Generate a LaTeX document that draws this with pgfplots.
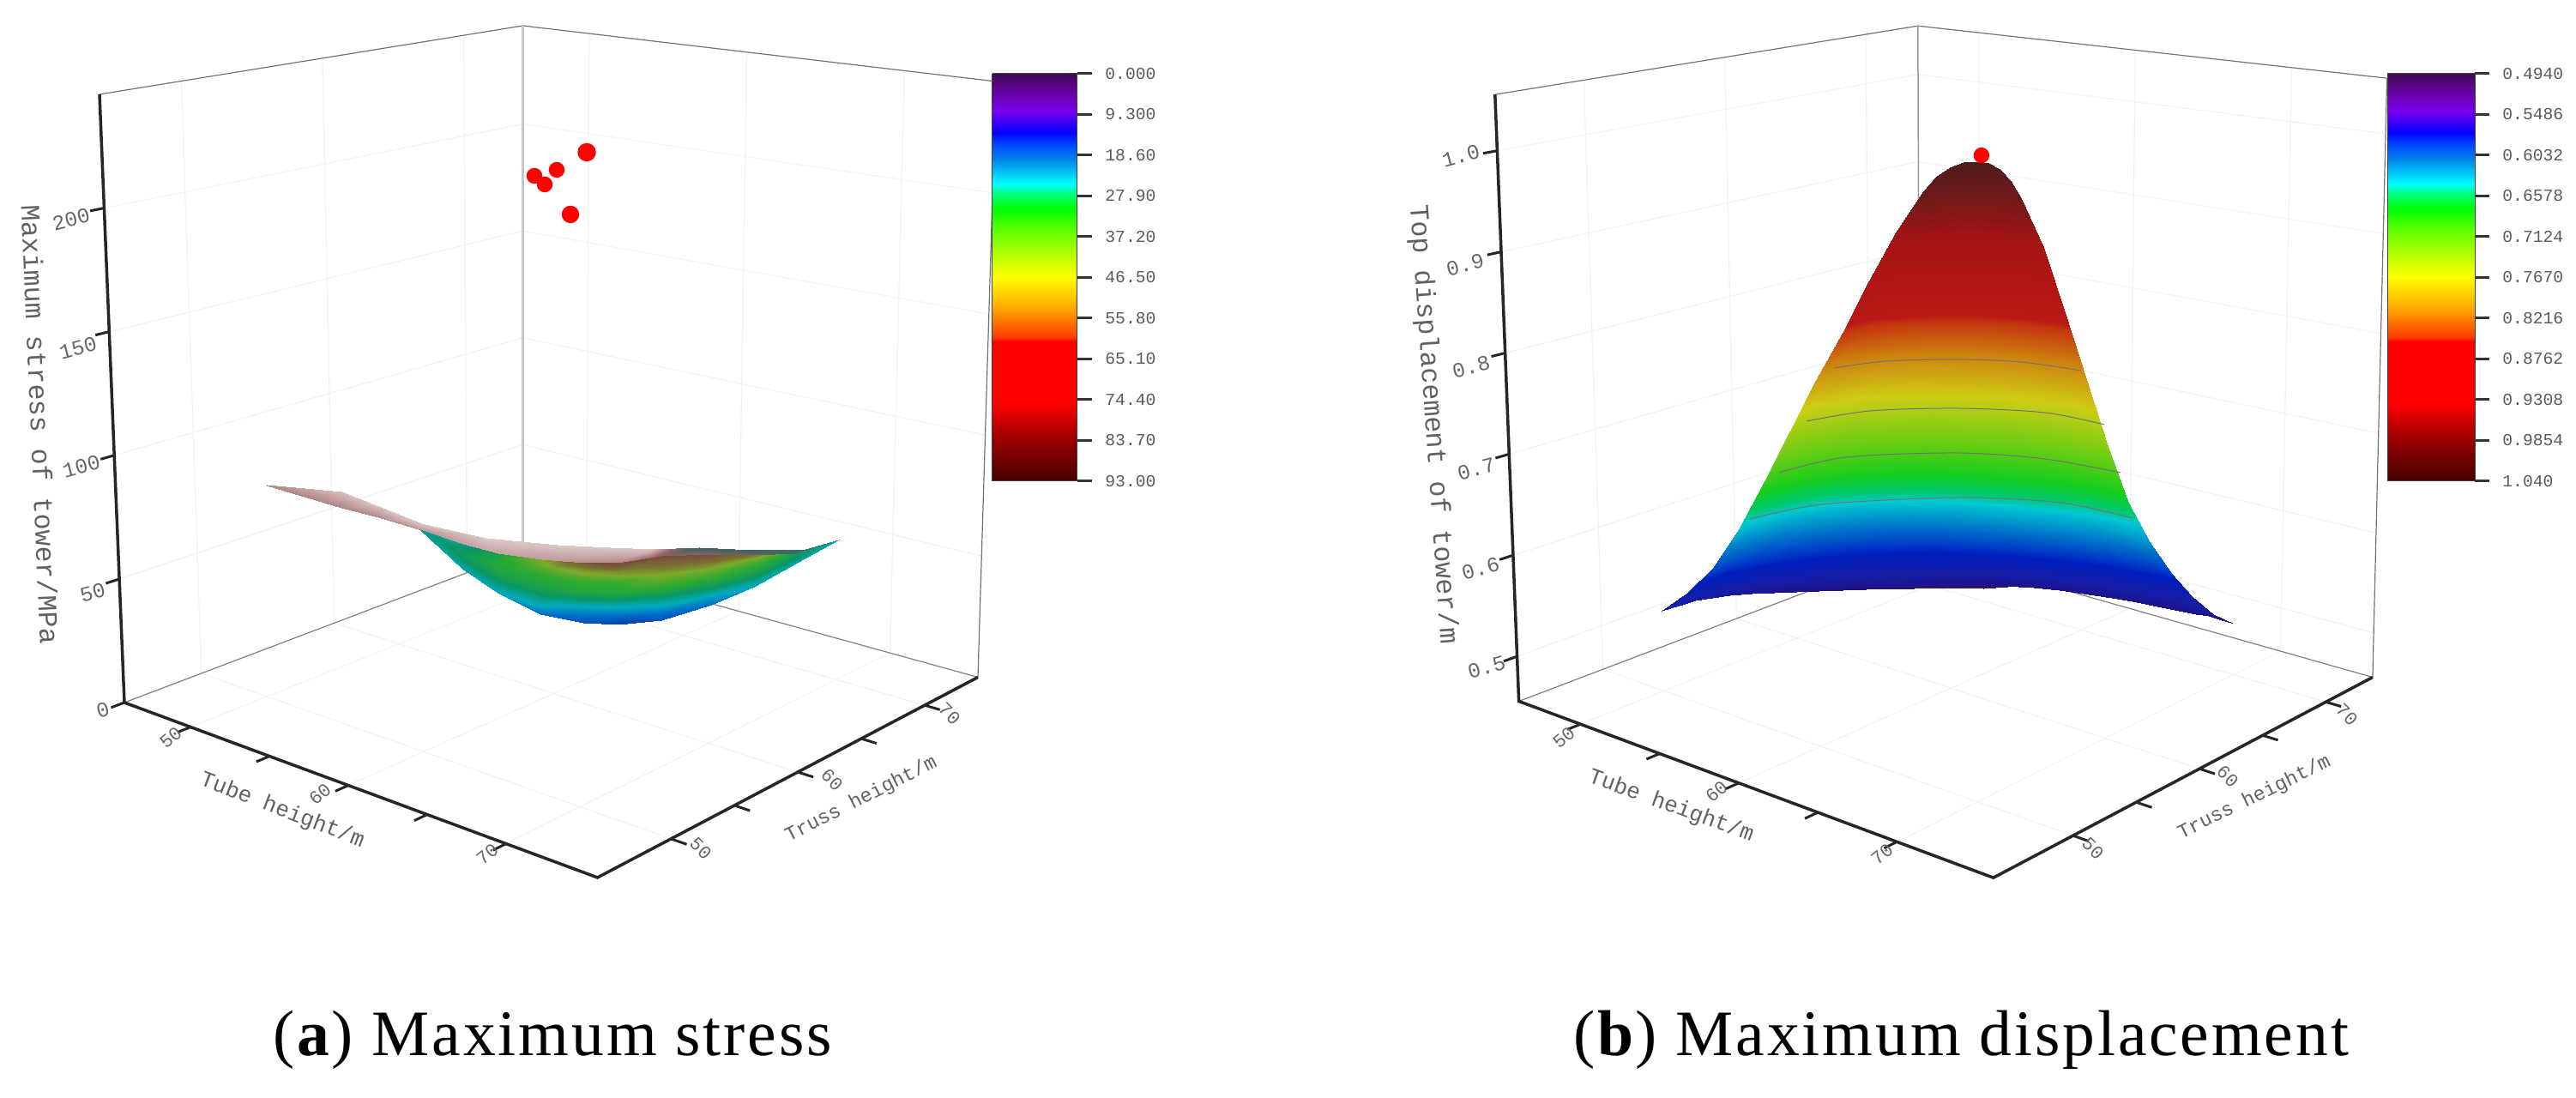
\documentclass[border=0pt]{standalone}
\usepackage{fontspec}
\setmainfont{Liberation Serif}
\newfontfamily\monof{Liberation Mono}
\newfontfamily\capf[LetterSpace=3.8]{Liberation Serif}
\usepackage{pgfplots}
\usepackage{pgfplotstable}
\pgfplotsset{compat=1.18}

% colour bar scale, top to bottom of the bar
\pgfplotsset{
  colormap={barmap}{
    rgb255(0pt)=(58,10,74) rgb255(30pt)=(90,5,130) rgb255(94pt)=(122,0,240)
    rgb255(147pt)=(0,0,255) rgb255(170pt)=(0,60,255) rgb255(210pt)=(0,130,235)
    rgb255(274pt)=(0,255,255) rgb255(297pt)=(0,255,128) rgb255(335pt)=(0,255,0)
    rgb255(395pt)=(110,255,0) rgb255(500pt)=(255,255,0) rgb255(583pt)=(255,160,0)
    rgb255(650pt)=(255,60,0) rgb255(660pt)=(255,0,0) rgb255(810pt)=(255,0,0)
    rgb255(883pt)=(170,0,0) rgb255(1000pt)=(70,0,0)},
  colormap={dimmap}{
    rgb255(0pt)=(50,15,90) rgb255(30pt)=(30,20,140) rgb255(94pt)=(20,30,170)
    rgb255(147pt)=(0,30,190) rgb255(170pt)=(0,60,200) rgb255(210pt)=(0,110,200)
    rgb255(274pt)=(0,200,210) rgb255(297pt)=(0,200,110) rgb255(335pt)=(20,205,30)
    rgb255(395pt)=(95,205,20) rgb255(500pt)=(205,205,20) rgb255(583pt)=(205,130,15)
    rgb255(650pt)=(195,50,15) rgb255(660pt)=(185,25,20) rgb255(810pt)=(165,20,20)
    rgb255(883pt)=(115,25,25) rgb255(1000pt)=(55,30,30)},
  colormap={undermap}{
    rgb255(0pt)=(0,30,150) rgb255(15pt)=(10,60,170) rgb255(22pt)=(0,110,200)
    rgb255(27pt)=(0,170,190) rgb255(33pt)=(10,150,100) rgb255(40pt)=(40,170,50)
    rgb255(50pt)=(125,170,40) rgb255(60pt)=(120,115,50) rgb255(72pt)=(120,75,60)
    rgb255(93pt)=(170,120,120)},
  colormap={topmap}{
    rgb255(0pt)=(45,125,115) rgb255(30pt)=(70,100,95) rgb255(60pt)=(150,100,100)
    rgb255(80pt)=(200,165,165) rgb255(93pt)=(225,210,210)},
  panel/.style={scale only axis, height=128mm, hide axis, y dir=reverse,
    ymin=0, ymax=1280, clip=false, no markers, colormap name=barmap},
  barstyle/.style={anchor=north west, width=9.9mm, height=47.5mm, y dir=reverse, samples=240,
    ytick pos=right, yticklabel pos=right, tick align=outside, major tick length=1.7mm,
    xtick=\empty, ytick style={black!80, line width=.3mm},
    axis line style={black!75, line width=.1mm},
    yticklabel style={font=\monof\fontsize{5.6}{6}\selectfont, text=black!65, xshift=.3mm}},
  table/proj/.style={row sep=\\,
    x expr={sx(\thisrow{t},\thisrow{s},\thisrow{z})},
    y expr={sy(\thisrow{t},\thisrow{s},\thisrow{z})}},
  gridl/.style={black!5, line width=.12mm},
  tickl/.style={black!85, line width=.3mm},
}
\newcommand\seg[3]{\addplot[#1] table[proj]{t s z\\ #2\\ #3\\};}
\tikzset{
  ztxt/.style={font=\monof\fontsize{7}{8}\selectfont, text=black!60},
  ticktxt/.style={font=\monof\fontsize{6.2}{7}\selectfont, text=black!60},
  labtxt/.style={font=\monof\fontsize{#1}{10}\selectfont, text=black!62},
  captxt/.style={font=\capf\fontsize{21.5}{26}\selectfont},
}

% top displacement of tower/m over tube height/m and truss height/m
\pgfplotstableread[row sep=\\]{tube truss z\\
50 70 0.460\\ 50 68.33 0.468\\ 50 66.67 0.475\\ 50 65 0.482\\ 50 63.33 0.489\\ 50 61.67 0.496\\ 50 60 0.504\\ 50 58.33 0.512\\ 50 56.67 0.519\\ 50 55 0.526\\ 50 53.33 0.531\\ 50 52.5 0.533\\ 50 51.67 0.534\\ 50 50.83 0.535\\ 50 50 0.535\\
51.67 70 0.463\\ 51.67 68.33 0.472\\ 51.67 66.67 0.481\\ 51.67 65 0.489\\ 51.67 63.33 0.497\\ 51.67 61.67 0.506\\ 51.67 60 0.516\\ 51.67 58.33 0.528\\ 51.67 56.67 0.538\\ 51.67 55 0.548\\ 51.67 53.33 0.555\\ 51.67 52.5 0.558\\ 51.67 51.67 0.560\\ 51.67 50.83 0.561\\ 51.67 50 0.561\\
53.33 70 0.471\\ 53.33 68.33 0.480\\ 53.33 66.67 0.488\\ 53.33 65 0.497\\ 53.33 63.33 0.507\\ 53.33 61.67 0.520\\ 53.33 60 0.533\\ 53.33 58.33 0.547\\ 53.33 56.67 0.561\\ 53.33 55 0.575\\ 53.33 53.33 0.585\\ 53.33 52.5 0.589\\ 53.33 51.67 0.591\\ 53.33 50.83 0.593\\ 53.33 50 0.593\\
55 70 0.478\\ 55 68.33 0.486\\ 55 66.67 0.496\\ 55 65 0.508\\ 55 63.33 0.520\\ 55 61.67 0.535\\ 55 60 0.553\\ 55 58.33 0.573\\ 55 56.67 0.593\\ 55 55 0.612\\ 55 53.33 0.626\\ 55 52.5 0.631\\ 55 51.67 0.635\\ 55 50.83 0.637\\ 55 50 0.638\\
56.67 70 0.488\\ 56.67 68.33 0.496\\ 56.67 66.67 0.507\\ 56.67 65 0.520\\ 56.67 63.33 0.536\\ 56.67 61.67 0.554\\ 56.67 60 0.578\\ 56.67 58.33 0.604\\ 56.67 56.67 0.631\\ 56.67 55 0.656\\ 56.67 53.33 0.675\\ 56.67 52.5 0.682\\ 56.67 51.67 0.687\\ 56.67 50.83 0.690\\ 56.67 50 0.691\\
58.33 70 0.493\\ 58.33 68.33 0.502\\ 58.33 66.67 0.516\\ 58.33 65 0.531\\ 58.33 63.33 0.550\\ 58.33 61.67 0.573\\ 58.33 60 0.603\\ 58.33 58.33 0.636\\ 58.33 56.67 0.669\\ 58.33 55 0.701\\ 58.33 53.33 0.725\\ 58.33 52.5 0.733\\ 58.33 51.67 0.740\\ 58.33 50.83 0.743\\ 58.33 50 0.745\\
60 70 0.496\\ 60 68.33 0.507\\ 60 66.67 0.523\\ 60 65 0.542\\ 60 63.33 0.564\\ 60 61.67 0.591\\ 60 60 0.627\\ 60 58.33 0.668\\ 60 56.67 0.707\\ 60 55 0.746\\ 60 53.33 0.774\\ 60 52.5 0.784\\ 60 51.67 0.792\\ 60 50.83 0.797\\ 60 50 0.798\\
61.67 70 0.498\\ 61.67 68.33 0.511\\ 61.67 66.67 0.530\\ 61.67 65 0.551\\ 61.67 63.33 0.577\\ 61.67 61.67 0.609\\ 61.67 60 0.650\\ 61.67 58.33 0.697\\ 61.67 56.67 0.743\\ 61.67 55 0.787\\ 61.67 53.33 0.820\\ 61.67 52.5 0.831\\ 61.67 51.67 0.841\\ 61.67 50.83 0.845\\ 61.67 50 0.847\\
63.33 70 0.501\\ 63.33 68.33 0.516\\ 63.33 66.67 0.536\\ 63.33 65 0.561\\ 63.33 63.33 0.591\\ 63.33 61.67 0.626\\ 63.33 60 0.674\\ 63.33 58.33 0.727\\ 63.33 56.67 0.779\\ 63.33 55 0.829\\ 63.33 53.33 0.867\\ 63.33 52.5 0.881\\ 63.33 51.67 0.891\\ 63.33 50.83 0.896\\ 63.33 50 0.899\\
65 70 0.503\\ 65 68.33 0.520\\ 65 66.67 0.543\\ 65 65 0.571\\ 65 63.33 0.604\\ 65 61.67 0.643\\ 65 60 0.696\\ 65 58.33 0.756\\ 65 56.67 0.814\\ 65 55 0.870\\ 65 53.33 0.912\\ 65 52.5 0.927\\ 65 51.67 0.939\\ 65 50.83 0.945\\ 65 50 0.947\\
66.67 70 0.505\\ 66.67 68.33 0.523\\ 66.67 66.67 0.549\\ 66.67 65 0.578\\ 66.67 63.33 0.615\\ 66.67 61.67 0.658\\ 66.67 60 0.715\\ 66.67 58.33 0.779\\ 66.67 56.67 0.843\\ 66.67 55 0.904\\ 66.67 53.33 0.950\\ 66.67 52.5 0.966\\ 66.67 51.67 0.978\\ 66.67 50.83 0.985\\ 66.67 50 0.988\\
67.5 70 0.506\\ 67.5 68.33 0.524\\ 67.5 66.67 0.550\\ 67.5 65 0.581\\ 67.5 63.33 0.618\\ 67.5 61.67 0.663\\ 67.5 60 0.722\\ 67.5 58.33 0.788\\ 67.5 56.67 0.853\\ 67.5 55 0.916\\ 67.5 53.33 0.962\\ 67.5 52.5 0.979\\ 67.5 51.67 0.992\\ 67.5 50.83 0.999\\ 67.5 50 1.002\\
68.33 70 0.507\\ 68.33 68.33 0.525\\ 68.33 66.67 0.552\\ 68.33 65 0.583\\ 68.33 63.33 0.621\\ 68.33 61.67 0.666\\ 68.33 60 0.726\\ 68.33 58.33 0.794\\ 68.33 56.67 0.860\\ 68.33 55 0.924\\ 68.33 53.33 0.972\\ 68.33 52.5 0.989\\ 68.33 51.67 1.002\\ 68.33 50.83 1.009\\ 68.33 50 1.012\\
69.17 70 0.507\\ 69.17 68.33 0.526\\ 69.17 66.67 0.553\\ 69.17 65 0.584\\ 69.17 63.33 0.623\\ 69.17 61.67 0.668\\ 69.17 60 0.729\\ 69.17 58.33 0.797\\ 69.17 56.67 0.865\\ 69.17 55 0.929\\ 69.17 53.33 0.977\\ 69.17 52.5 0.995\\ 69.17 51.67 1.008\\ 69.17 50.83 1.015\\ 69.17 50 1.018\\
70 70 0.507\\ 70 68.33 0.526\\ 70 66.67 0.553\\ 70 65 0.585\\ 70 63.33 0.623\\ 70 61.67 0.669\\ 70 60 0.730\\ 70 58.33 0.799\\ 70 56.67 0.866\\ 70 55 0.931\\ 70 53.33 0.980\\ 70 52.5 0.997\\ 70 51.67 1.010\\ 70 50.83 1.017\\ 70 50 1.020\\
}\surfb

% maximum stress surface (page x, page y, value)
\pgfplotstableread[row sep=\\]{px py v\\
311 565 75\\ 311 566 70\\ 398 573 88\\ 398 592 70\\ 441 590 88\\ 441 603 72\\ 491 610 90\\ 491 618 76\\
566 627 90\\ 566 645 78\\ 649 635 90\\ 649 655 75\\ 711 638 90\\ 711 658 70\\ 761 640 88\\ 761 650 60\\
815 638 25\\ 815 648 60\\ 877 641 20\\ 877 649 55\\ 939 640 5\\ 939 647 10\\ 978 629 0\\ 978 629 0\\
}\topa
\pgfplotstableread[row sep=\\]{px py v\\
489 617.5 30\\ 489 617.5 30\\ 489 617.5 30\\ 489 617.5 30\\ 489 617.5 30\\ 489 617.5 30\\ 489 617.5 30\\
539 634 30\\ 539 638 32\\ 539 643 34\\ 539 648.5 34\\ 539 654 32\\ 539 659 30\\ 539 663 28\\
580 645 36\\ 580 652 38\\ 580 659 39\\ 580 668 37\\ 580 677 33\\ 580 684 30\\ 580 691 27\\
630 652 50\\ 630 661.6 45\\ 630 671 40\\ 630 684 37\\ 630 697 31\\ 630 706.4 27\\ 630 716 22\\
680 656 68\\ 680 666.5 52\\ 680 677 42\\ 680 691 38\\ 680 705 28\\ 680 715.5 23\\ 680 726 18\\
721 656 75\\ 721 667 55\\ 721 678 42\\ 721 692 38\\ 721 706 28\\ 721 717 22\\ 721 728 15\\
771 648 72\\ 771 659 62\\ 771 670.5 50\\ 771 685.5 40\\ 771 700.5 30\\ 771 712 24\\ 771 723 18\\
829 646 72\\ 829 655 60\\ 829 664 48\\ 829 675.5 40\\ 829 687 32\\ 829 696 26\\ 829 705 22\\
879 647 60\\ 879 652.5 48\\ 879 658 42\\ 879 665.5 38\\ 879 673 33\\ 879 678.5 30\\ 879 684 27\\
929 645 33\\ 929 647 34\\ 929 648 34\\ 929 650.5 33\\ 929 653 31\\ 929 654.5 30\\ 929 656 28\\
978 629 28\\ 978 629 28\\ 978 629 28\\ 978 629 28\\ 978 629 28\\ 978 629 28\\ 978 629 28\\
}\undera

\begin{document}
\begin{tikzpicture}
\path[use as bounding box] (0,0) rectangle (300.3mm,128mm);

% ---------------- (a) maximum stress
\begin{axis}[panel, width=150mm, xmin=0, xmax=1500,
  point meta min=0, point meta max=93,
  declare function={
    lerp(\u,\v,\w)=\u+(\v-\u)*\w;
    aa(\x)=(\x-45.8)/30; bb(\y)=(\y-44.2)/30; cc(\z)=\z/246;
    sx(\x,\y,\z)=lerp(lerp(lerp(145,696.5,aa(\x)),lerp(609.5,1140,aa(\x)),bb(\y)),lerp(lerp(116,700,aa(\x)),lerp(609.5,1161,aa(\x)),bb(\y)),cc(\z));
    sy(\x,\y,\z)=lerp(lerp(lerp(819,1023,aa(\x)),lerp(643,789.5,aa(\x)),bb(\y)),lerp(lerp(110,203,aa(\x)),lerp(30,95,aa(\x)),bb(\y)),cc(\z));
  },
  colorbar sampled, colorbar style={barstyle, at={(0.7713,0.9328)},
    ytick={0,9.3,18.6,27.9,37.2,46.5,55.8,65.1,74.4,83.7,93},
    yticklabels={0.000,9.300,18.60,27.90,37.20,46.50,55.80,65.10,74.40,83.70,93.00}},
]
% walls and floor
\pgfplotsinvokeforeach{50,100,150,200}{
  \seg{gridl}{45.8 44.2 #1}{45.8 74.2 #1}
  \seg{gridl}{45.8 74.2 #1}{75.8 74.2 #1}
}
\pgfplotsinvokeforeach{50,60,70}{
  \seg{gridl}{#1 44.2 0}{#1 74.2 0}
  \seg{gridl}{45.8 #1 0}{75.8 #1 0}
  \seg{gridl}{45.8 #1 0}{45.8 #1 246}
  \seg{gridl}{#1 74.2 0}{#1 74.2 246}
}
\addplot[black!55, line width=.12mm] coordinates {(116,110)(609.5,30)(1161,95)};
\addplot[black!22, line width=.3mm] coordinates {(609.5,30)(609.5,643)};
\addplot[black!55, line width=.12mm] coordinates {(1161,95)(1140,789.5)};
\addplot[black!50, line width=.12mm] coordinates {(145,819)(609.5,643)(1140,789.5)};
% ticks
\pgfplotsinvokeforeach{0,50,100,150,200}{\seg{tickl}{45.8 44.2 #1}{45.8 43.2 #1}}
\pgfplotsinvokeforeach{50,55,60,65,70}{
  \seg{tickl}{#1 44.2 0}{#1 43.2 0}
  \seg{tickl}{75.8 #1 0}{76.8 #1 0}
}
\addplot[black!85, line width=.35mm] coordinates {(116,110)(145,819)(696.5,1023)(1140,789.5)};
% surface: lit upper side first, coloured lower side over it
\addplot[surf, shader=interp, colormap name=topmap, mesh/rows=12, mesh/cols=2, point meta=explicit]
  table[x=px, y=py, meta=v] {\topa};
\addplot[surf, shader=interp, colormap name=undermap, mesh/rows=11, mesh/cols=7, point meta=explicit]
  table[x=px, y=py, meta=v] {\undera};
% red points
\addplot[only marks, mark=*, red, mark size=1mm] coordinates {(684,177.5)};
\addplot[only marks, mark=*, red, mark size=.85mm] coordinates {(649,198)(623,205)(635,215)};
\addplot[only marks, mark=*, red, mark size=.95mm] coordinates {(665,250)};
% text
\node[ztxt, rotate=15] at (axis cs:83,256) {200};
\node[ztxt, rotate=15] at (axis cs:91,406) {150};
\node[ztxt, rotate=15] at (axis cs:95,544) {100};
\node[ztxt, rotate=15] at (axis cs:108,691) {50};
\node[ztxt, rotate=15] at (axis cs:120,828) {0};
\node[ticktxt, rotate=40] at (axis cs:199,860) {50};
\node[ticktxt, rotate=40] at (axis cs:373,926) {60};
\node[ticktxt, rotate=40] at (axis cs:568,996) {70};
\node[ticktxt, rotate=-45] at (axis cs:817,989) {50};
\node[ticktxt, rotate=-45] at (axis cs:970,909) {60};
\node[ticktxt, rotate=-45] at (axis cs:1107,832) {70};
\node[labtxt=9, rotate=-87.5] at (axis cs:47,495) {Maximum stress of tower/MPa};
\node[labtxt=7.4, rotate=-21] at (axis cs:329,945) {Tube height/m};
\node[labtxt=6.6, rotate=27] at (axis cs:1004,932) {Truss height/m};
\node[captxt] at (axis cs:644,1212) {(\textbf{a}) Maximum stress};
\end{axis}

% ---------------- (b) maximum displacement
\begin{axis}[panel, at={(150mm,0)}, width=150.3mm, xmin=1500, xmax=3003,
  point meta min=0.494, point meta max=1.04,
  declare function={
    lerp(\u,\v,\w)=\u+(\v-\u)*\w;
    aa(\x)=(\x-46.1)/30; bb(\y)=(\y-43.7)/30; cc(\z)=(\z-0.4556)/0.6;
    sx(\x,\y,\z)=lerp(lerp(lerp(1770.6,2323.8,aa(\x)),lerp(2237.7,2765.9,aa(\x)),bb(\y)),lerp(lerp(1742.8,2326.6,aa(\x)),lerp(2235.8,2782.6,aa(\x)),bb(\y)),cc(\z));
    sy(\x,\y,\z)=lerp(lerp(lerp(817.5,1023.2,aa(\x)),lerp(640,789.5,aa(\x)),bb(\y)),lerp(lerp(110.2,170.5,aa(\x)),lerp(30.2,91.2,aa(\x)),bb(\y)),cc(\z));
  },
  colorbar sampled, colorbar style={barstyle, at={(0.8536,0.9328)}, width=10.2mm,
    ytick={0.494,0.5486,0.6032,0.6578,0.7124,0.767,0.8216,0.8762,0.9308,0.9854,1.04},
    yticklabels={0.4940,0.5486,0.6032,0.6578,0.7124,0.7670,0.8216,0.8762,0.9308,0.9854,1.040}},
]
\pgfplotsinvokeforeach{0.5,0.6,0.7,0.8,0.9,1.0}{
  \seg{gridl}{46.1 43.7 #1}{46.1 73.7 #1}
  \seg{gridl}{46.1 73.7 #1}{76.1 73.7 #1}
}
\pgfplotsinvokeforeach{50,60,70}{
  \seg{gridl}{#1 43.7 0.4556}{#1 73.7 0.4556}
  \seg{gridl}{46.1 #1 0.4556}{76.1 #1 0.4556}
  \seg{gridl}{46.1 #1 0.4556}{46.1 #1 1.0556}
  \seg{gridl}{#1 73.7 0.4556}{#1 73.7 1.0556}
}
\addplot[black!55, line width=.12mm] coordinates {(1742.8,110.2)(2235.8,30.2)(2782.6,91.2)};
\addplot[black!40, line width=.15mm] coordinates {(2235.8,30.2)(2237.7,640)};
\addplot[black!55, line width=.12mm] coordinates {(2782.6,91.2)(2765.9,789.5)};
\addplot[black!50, line width=.12mm] coordinates {(1770.6,817.5)(2237.7,640)(2765.9,789.5)};
\pgfplotsinvokeforeach{0.5,0.6,0.7,0.8,0.9,1.0}{\seg{tickl}{46.1 43.7 #1}{46.1 42.7 #1}}
\pgfplotsinvokeforeach{50,55,60,65,70}{
  \seg{tickl}{#1 43.7 0.4556}{#1 42.7 0.4556}
  \seg{tickl}{76.1 #1 0.4556}{77.1 #1 0.4556}
}
\addplot[black!85, line width=.35mm] coordinates {(1742.8,110.2)(1770.6,817.5)(2323.8,1023.2)(2765.9,789.5)};
\addplot[surf, shader=interp, colormap name=dimmap, mesh/rows=15, mesh/cols=15, point meta=explicit]
  table[x expr={sx(\thisrow{tube},\thisrow{truss},\thisrow{z})},
        y expr={sy(\thisrow{tube},\thisrow{truss},\thisrow{z})}, meta=z] {\surfb};
% faint level lines on the surface
\addplot[black!55, line width=.1mm, smooth] coordinates {(2138,429)(2199,421)(2282,419)(2356,422)(2426,432)};
\addplot[black!55, line width=.1mm, smooth] coordinates {(2106,491)(2180,479)(2282,476)(2384,481)(2453,495)};
\addplot[black!55, line width=.1mm, smooth] coordinates {(2074,551)(2152,533)(2282,528)(2384,535)(2472,551)};
\addplot[black!55, line width=.1mm, smooth] coordinates {(2041,605)(2124,588)(2282,580)(2402,586)(2486,604)};
\addplot[only marks, mark=*, red, mark size=.85mm] table[proj] {t s z\\ 70 50.3 1.025\\};
\node[ztxt, rotate=15] at (axis cs:1703,182) {1.0};
\node[ztxt, rotate=15] at (axis cs:1708,309) {0.9};
\node[ztxt, rotate=15] at (axis cs:1715,428) {0.8};
\node[ztxt, rotate=15] at (axis cs:1721,547) {0.7};
\node[ztxt, rotate=15] at (axis cs:1726,663) {0.6};
\node[ztxt, rotate=15] at (axis cs:1733,778) {0.5};
\node[ticktxt, rotate=40] at (axis cs:1823,860) {50};
\node[ticktxt, rotate=40] at (axis cs:2001,923) {60};
\node[ticktxt, rotate=40] at (axis cs:2194,996) {70};
\node[ticktxt, rotate=-45] at (axis cs:2440,989) {50};
\node[ticktxt, rotate=-45] at (axis cs:2597,905) {60};
\node[ticktxt, rotate=-45] at (axis cs:2736,833) {70};
\node[labtxt=9, rotate=-86] at (axis cs:1670,495) {Top displacement of tower/m};
\node[labtxt=7.4, rotate=-20] at (axis cs:1948,940) {Tube height/m};
\node[labtxt=6.6, rotate=26] at (axis cs:2628,930) {Truss height/m};
\node[captxt] at (axis cs:2286,1212) {(\textbf{b}) Maximum displacement};
\end{axis}
\end{tikzpicture}
\end{document}
